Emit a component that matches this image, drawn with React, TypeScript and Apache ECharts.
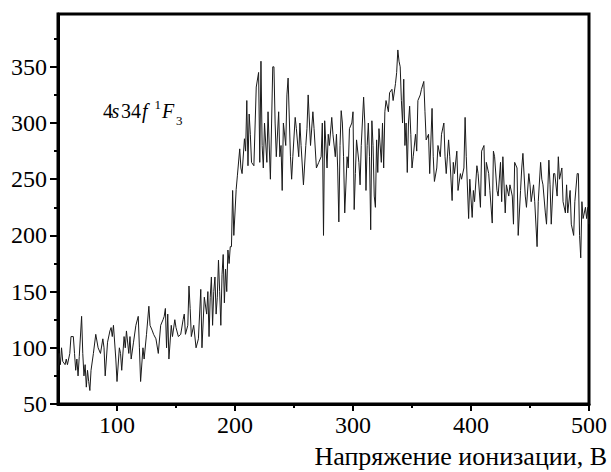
import React, { useEffect, useRef } from "react";
import * as echarts from "echarts";

// Ionization voltage, V
const voltage: number[] = [
  50, 51, 52, 53, 54, 56, 57, 58, 60, 61,
  63, 64, 65, 66, 67, 68, 70, 71, 72, 73,
  74, 75, 76, 77, 78, 80, 82, 84, 86, 88,
  89, 90, 92, 94, 95, 96, 97, 99, 100, 102,
  103, 104, 106, 107, 108, 110, 111, 112, 114, 116,
  118, 119, 120, 122, 123, 125, 127, 128, 130, 131,
  133, 135, 137, 139, 140, 141, 142, 143, 144, 146,
  147, 149, 150, 152, 154, 156, 157, 158, 160, 161,
  162, 163, 165, 167, 169, 171, 172, 174, 176, 177,
  178, 179, 180, 181, 182, 183, 184, 185, 186, 187,
  188, 189, 190, 191, 192, 193, 194, 195, 196, 197,
  198, 199, 201, 202, 204, 205, 206, 208, 209, 210,
  211, 212, 213, 214, 216, 218, 220, 221, 222, 223,
  224, 225, 227, 228, 230, 231, 232, 233, 234, 235,
  237, 238, 239, 240, 241, 243, 244, 245, 247, 248,
  249, 251, 252, 254, 255, 256, 258, 260, 261, 262,
  264, 266, 267, 269, 271, 273, 274, 275, 276, 278,
  279, 280, 282, 283, 285, 286, 287, 288, 289, 290,
  291, 292, 293, 295, 296, 297, 299, 300, 301, 302,
  303, 305, 306, 307, 309, 310, 311, 312, 313, 314,
  315, 316, 317, 318, 319, 320, 321, 322, 324, 325,
  326, 327, 328, 330, 331, 333, 334, 336, 337, 338,
  339, 340, 341, 342, 343, 344, 345, 346, 347, 348,
  349, 350, 351, 353, 354, 355, 357, 358, 360, 361,
  362, 364, 365, 367, 368, 369, 371, 372, 374, 375,
  377, 378, 379, 381, 382, 384, 385, 386, 388, 389,
  391, 392, 394, 395, 396, 398, 399, 401, 402, 403,
  405, 406, 408, 409, 411, 412, 413, 415, 416, 418,
  419, 420, 422, 423, 425, 426, 427, 429, 430, 432,
  433, 435, 436, 437, 439, 440, 442, 443, 444, 446,
  447, 449, 450, 451, 453, 454, 456, 457, 459, 460,
  461, 463, 464, 466, 467, 468, 470, 471, 473, 474,
  475, 477, 478, 480, 481, 482, 484, 485, 487, 488,
  490, 491, 492, 493, 494, 495, 497, 498, 499, 500,
];

// Signal intensity (arb. units)
const intensity: number[] = [
  80, 95, 85, 100, 88, 85, 90, 85, 95, 110,
  110, 95, 80, 90, 75, 92, 128, 95, 75, 85,
  65, 80, 70, 62, 80, 95, 112, 100, 95, 108,
  100, 75, 105, 115, 118, 110, 120, 90, 70, 100,
  95, 80, 110, 100, 115, 95, 110, 90, 105, 120,
  128, 100, 70, 100, 90, 112, 137, 120, 115, 112,
  108, 95, 120, 125, 128, 135, 100, 130, 90, 120,
  110, 125, 118, 110, 112, 125, 130, 112, 120, 155,
  135, 110, 120, 100, 108, 152, 100, 145, 130, 150,
  110, 145, 163, 120, 150, 163, 130, 145, 178, 150,
  120, 165, 183, 140, 170, 150, 187, 175, 190, 190,
  240, 200, 241, 253, 277, 260, 255, 286, 275, 320,
  262, 308, 290, 265, 262, 332, 345, 265, 355, 280,
  260, 300, 265, 310, 250, 300, 350, 350, 300, 270,
  310, 270, 280, 240, 300, 280, 325, 340, 270, 250,
  270, 305, 295, 270, 300, 280, 245, 280, 295, 325,
  280, 310, 295, 260, 265, 270, 300, 200, 302, 260,
  290, 280, 305, 290, 270, 290, 260, 212, 280, 311,
  300, 270, 220, 270, 260, 295, 300, 310, 223, 255,
  285, 265, 245, 280, 323, 300, 240, 280, 300, 270,
  205, 302, 280, 235, 225, 285, 256, 295, 265, 300,
  260, 310, 320, 310, 327, 330, 320, 335, 345, 365,
  355, 350, 320, 300, 339, 280, 300, 256, 300, 315,
  290, 260, 270, 290, 275, 320, 325, 330, 337, 310,
  285, 290, 255, 313, 270, 248, 260, 280, 270, 290,
  300, 270, 255, 285, 270, 231, 265, 255, 275, 240,
  255, 250, 260, 305, 270, 215, 250, 216, 240, 230,
  262, 255, 225, 275, 280, 235, 265, 255, 240, 211,
  275, 270, 240, 235, 265, 230, 270, 220, 245, 235,
  245, 235, 210, 265, 260, 200, 240, 260, 273, 235,
  225, 255, 245, 230, 245, 230, 190, 230, 265, 250,
  245, 220, 210, 267, 245, 210, 255, 255, 235, 270,
  250, 260, 230, 220, 245, 220, 240, 210, 200, 230,
  255, 255, 200, 180, 230, 215, 225, 215, 225, 210,
];

const xMajorLabels = [100, 200, 300, 400, 500];
const xMinorTicks = [150, 250, 350, 450];
const yMajorLabels = [50, 100, 150, 200, 250, 300, 350];
const yMinorTicks = [75, 125, 175, 225, 275, 325, 375];

const xTitle = "Напряжение ионизации, В";
// term label pieces: text, italic, small
const termPieces: [string, boolean, boolean][] = [
  ["4", false, false],
  ["s", true, false],
  ["34", false, false],
  ["f", true, false],
  ["1", false, true],
  ["F", true, false],
  ["3", false, true],
];
const FONT = "Liberation Serif";

export default function App() {
  const ref = useRef<HTMLDivElement>(null);

  useEffect(() => {
    if (!ref.current) return;
    const chart = echarts.init(ref.current, undefined, { renderer: "svg" });
    const data = voltage.map((v, i) => [v, intensity[i]]);

    const xBase = {
      type: "value" as const,
      min: 50,
      max: 500,
      interval: 50,
      position: "bottom" as const,
      splitLine: { show: false },
    };
    const yBase = {
      type: "value" as const,
      min: 50,
      max: 397,
      interval: 50,
      position: "left" as const,
      splitLine: { show: false },
    };

    // layout of the term label pieces (x, centre y)
    const pieceX = [103, 111.5, 121, 142, 154.5, 162, 176];
    const pieceY = [111, 111, 111, 111, 104.5, 111, 120.5];
    const termGraphics = termPieces.map(([t, it, small], i) => ({
      type: "text",
      x: pieceX[i],
      y: pieceY[i],
      style: {
        text: t,
        fontFamily: FONT,
        fontSize: small ? 13 : 20,
        fontStyle: it ? "italic" : "normal",
        fill: "#000",
        align: "left",
        verticalAlign: "middle",
      },
    }));

    chart.setOption({
      animation: false,
      backgroundColor: "#fff",
      grid: {
        left: 58,
        right: 22,
        top: 14,
        bottom: 68,
        show: true,
        borderColor: "#000",
        borderWidth: 3,
        backgroundColor: "transparent",
      },
      xAxis: [
        {
          ...xBase,
          axisLine: { show: true, lineStyle: { color: "#000", width: 3 } },
          axisTick: {
            show: true,
            customValues: xMajorLabels,
            length: 7,
            lineStyle: { color: "#000", width: 2 },
          },
          axisLabel: {
            customValues: xMajorLabels,
            fontFamily: FONT,
            fontSize: 24,
            color: "#000",
            margin: 9,
          },
        },
        {
          ...xBase,
          axisLine: { show: false },
          axisTick: {
            show: true,
            customValues: xMinorTicks,
            length: 4,
            lineStyle: { color: "#000", width: 2 },
          },
          axisLabel: { show: false },
        },
      ],
      yAxis: [
        {
          ...yBase,
          axisLine: { show: true, lineStyle: { color: "#000", width: 3 } },
          axisTick: {
            show: true,
            customValues: yMajorLabels,
            length: 8,
            lineStyle: { color: "#000", width: 2 },
          },
          axisLabel: {
            customValues: yMajorLabels,
            fontFamily: FONT,
            fontSize: 24,
            color: "#000",
            margin: 11,
          },
        },
        {
          ...yBase,
          axisLine: { show: false },
          axisTick: {
            show: true,
            customValues: yMinorTicks,
            length: 4,
            lineStyle: { color: "#000", width: 2 },
          },
          axisLabel: { show: false },
        },
      ],
      series: [
        {
          type: "line",
          xAxisIndex: 0,
          yAxisIndex: 0,
          data,
          showSymbol: false,
          symbol: "none",
          lineStyle: { color: "#1a1a1a", width: 1 },
        },
      ],
      graphic: [
        {
          type: "text",
          x: 607,
          y: 456,
          style: {
            text: xTitle,
            fontFamily: FONT,
            fontSize: 26,
            fill: "#000",
            align: "right",
            verticalAlign: "middle",
          },
        },
        ...termGraphics,
      ],
    });

    return () => chart.dispose();
  }, []);

  return (
    <div
      ref={ref}
      style={{ position: "absolute", left: 0, top: 0, width: 611, height: 472 }}
    />
  );
}
